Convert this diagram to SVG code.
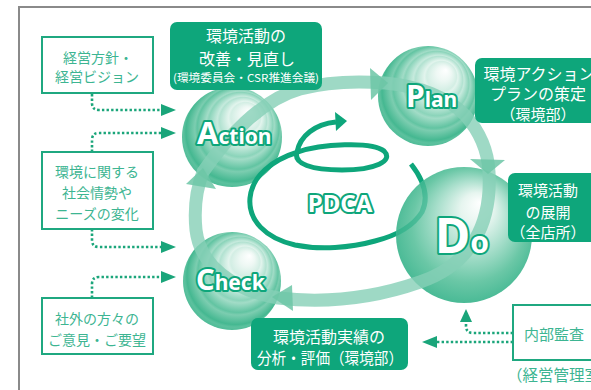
<svg xmlns="http://www.w3.org/2000/svg" width="591" height="390" viewBox="0 0 591 390">
  <defs>
    <style>
      .frame { fill: none; stroke: #8a8a8a; stroke-width: 2; }
      .note { fill: #ffffff; stroke: #1fa880; stroke-width: 2; }
      .note-text { fill: #3db592; font-family: "Noto Sans CJK JP", "Noto Sans", sans-serif; font-size: 14px; text-anchor: middle; }
      .role { fill: #0ea67b; }
      .role-text { fill: #ffffff; font-family: "Noto Sans CJK JP", "Noto Sans", sans-serif; font-size: 16px; text-anchor: middle; }
      .dots { fill: none; stroke: #1aa57a; stroke-width: 2.6; stroke-dasharray: 2.4 2.2; }
      .dot-head { fill: #1aa57a; }
      .cycle { fill: none; stroke: #86d0b7; stroke-width: 13; opacity: 0.8; }
      .cycle-head { fill: #6cc6a6; opacity: 0.85; }
      .spiral { fill: none; stroke: #0ea67b; stroke-width: 5; stroke-linecap: butt; }
      .stage { fill: #ffffff; stroke: #0ea67b; stroke-width: 4; paint-order: stroke; stroke-linejoin: round; font-family: "Noto Sans", "DejaVu Sans", sans-serif; font-weight: 700; }
    </style>
    <radialGradient id="ball" cx="0.5" cy="0.5" r="0.62" fx="0.68" fy="0.24">
      <stop offset="0" stop-color="#ffffff"/>
      <stop offset="0.12" stop-color="#eef8f4"/>
      <stop offset="0.24" stop-color="#d3eee4"/>
      <stop offset="0.27" stop-color="#e2f4ed"/>
      <stop offset="0.38" stop-color="#b2e2d1"/>
      <stop offset="0.41" stop-color="#c6eadd"/>
      <stop offset="0.52" stop-color="#8bd4ba"/>
      <stop offset="0.55" stop-color="#a2dcc7"/>
      <stop offset="0.66" stop-color="#62c4a2"/>
      <stop offset="0.69" stop-color="#7ccdb0"/>
      <stop offset="0.80" stop-color="#45b891"/>
      <stop offset="0.83" stop-color="#5cc19e"/>
      <stop offset="1" stop-color="#2aad85"/>
    </radialGradient>
    <radialGradient id="ball-do" cx="0.5" cy="0.5" r="0.6" fx="0.62" fy="0.26">
      <stop offset="0" stop-color="#ffffff"/>
      <stop offset="0.2" stop-color="#e6f5ef"/>
      <stop offset="0.45" stop-color="#a9dfcc"/>
      <stop offset="0.7" stop-color="#6ac7a6"/>
      <stop offset="1" stop-color="#35b28b"/>
    </radialGradient>
    <mask id="behind-do">
      <rect x="0" y="0" width="591" height="390" fill="#ffffff"/>
      <circle cx="464" cy="235" r="68" fill="#6a6a6a"/>
    </mask>
  </defs>

  <!-- outer frame -->
  <path class="frame" d="M591,7 H19 V390"/>

  <!-- connectors: dotted inputs and the PDCA cycle band -->
  <g id="connectors">
    <path class="dots" d="M92,94 V103 Q92,110 99,110 H163"/>
    <polygon class="dot-head" points="161,104 176,110 161,116"/>
    <path class="dots" d="M92,152 V140 Q92,133 99,133 H163"/>
    <polygon class="dot-head" points="161,127 176,133 161,139"/>
    <path class="dots" d="M92,229 V240 Q92,247 99,247 H163"/>
    <polygon class="dot-head" points="161,241 176,247 161,253"/>
    <path class="dots" d="M92,298 V284 Q92,277 99,277 H163"/>
    <polygon class="dot-head" points="161,271 176,277 161,283"/>
    <path class="dots" d="M513,333 H473 Q466,333 466,326 V320"/>
    <polygon class="dot-head" points="460,322 466,309 472,322"/>
    <path class="dots" d="M513,342 H434"/>
    <polygon class="dot-head" points="437,336 422,342 437,348"/>
  </g>

  <!-- spheres -->
  <g id="action">
    <circle cx="232" cy="137" r="50" fill="url(#ball)"/>
  </g>
  <g id="plan">
    <circle cx="428" cy="96" r="50" fill="url(#ball)"/>
  </g>
  <g id="check">
    <circle cx="232" cy="281" r="49" fill="url(#ball)"/>
  </g>
  <g id="do">
    <circle cx="464" cy="235" r="68" fill="url(#ball-do)"/>
  </g>

  <!-- PDCA spiral -->
  <g id="pdca">
    <path class="spiral" mask="url(#behind-do)" d="M411,164 C422,178 430,195 422,212 C412,228 395,236 375,241 C350,248 320,250 295,245 C265,238 248,220 250,198 C252,176 272,160 298,152 C320,144 372,141 384,151 C394,161 375,170 342,170 C312,170 293,164 297,152 C300,136 315,124 336,122"/>
    <polygon fill="#0ea67b" points="347,121 335,112 336,131"/>
    <text class="stage" x="340" y="212" font-size="24" text-anchor="middle">PDCA</text>
  </g>

  <!-- cycle band -->
  <g id="cycle">
    <path class="cycle" d="M203,172 C225,140 260,100 300,89 C330,81 360,81 385,83 C420,86 448,98 465,115 C480,132 488,150 489,172 C492,225 470,265 420,282 C380,296 330,304 278,298 C232,290 200,265 196,230 C194,210 196,190 203,172 Z"/>
    <polygon class="cycle-head" points="388,83 370,68 371,100"/>
    <polygon class="cycle-head" points="488,174 470,159 505,160"/>
    <polygon class="cycle-head" points="272,297 292,285 293,311"/>
    <polygon class="cycle-head" points="203,168 186,184 216,189"/>
  </g>

  <!-- stage letters -->
  <text class="stage" x="197" y="144"><tspan font-size="31">A</tspan><tspan font-size="21">ction</tspan></text>
  <text class="stage" x="406" y="107"><tspan font-size="30">P</tspan><tspan font-size="21">lan</tspan></text>
  <text class="stage" x="196" y="290"><tspan font-size="29">C</tspan><tspan font-size="21">heck</tspan></text>
  <text class="stage" x="435" y="253"><tspan font-size="48">D</tspan><tspan font-size="30">o</tspan></text>

  <!-- input notes -->
  <g id="note-policy">
    <rect class="note" x="42" y="37" width="111" height="56"/>
    <text class="note-text" x="98" y="63">経営方針・</text>
    <text class="note-text" x="97" y="82">経営ビジョン</text>
  </g>
  <g id="note-society">
    <rect class="note" x="42" y="152" width="111" height="77"/>
    <text class="note-text" x="97" y="177">環境に関する</text>
    <text class="note-text" x="97" y="198">社会情勢や</text>
    <text class="note-text" x="97" y="219">ニーズの変化</text>
  </g>
  <g id="note-voices">
    <rect class="note" x="42" y="298" width="111" height="56"/>
    <text class="note-text" x="97" y="324">社外の方々の</text>
    <text class="note-text" x="97" y="345">ご意見・ご要望</text>
  </g>
  <g id="note-audit">
    <rect class="note" x="513" y="305" width="90" height="55"/>
    <text class="note-text" x="554" y="340" style="font-size:15px">内部監査</text>
    <text class="note-text" x="507" y="381" style="font-size:15.5px; text-anchor:start">（経営管理室）</text>
  </g>

  <!-- responsibility boxes -->
  <g id="role-action">
    <rect class="role" x="170" y="22" width="152" height="68" rx="7"/>
    <text class="role-text" x="246" y="42">環境活動の</text>
    <text class="role-text" x="247" y="65">改善・見直し</text>
    <text class="role-text" x="246" y="82" style="font-size:11px" textLength="146" lengthAdjust="spacingAndGlyphs">(環境委員会・CSR推進会議)</text>
  </g>
  <g id="role-plan">
    <rect class="role" x="475" y="58" width="130" height="65" rx="7"/>
    <text class="role-text" x="539" y="80">環境アクション</text>
    <text class="role-text" x="538" y="100">プランの策定</text>
    <text class="role-text" x="538" y="120" style="font-size:15px">（環境部）</text>
  </g>
  <g id="role-do">
    <rect class="role" x="508" y="173" width="95" height="69" rx="7"/>
    <text class="role-text" x="548" y="196" style="font-size:15px">環境活動</text>
    <text class="role-text" x="548" y="218" style="font-size:15px">の展開</text>
    <text class="role-text" x="548" y="238" style="font-size:15px">（全店所）</text>
  </g>
  <g id="role-check">
    <rect class="role" x="251" y="318" width="157" height="52" rx="7"/>
    <text class="role-text" x="329" y="343">環境活動実績の</text>
    <text class="role-text" x="330" y="364" textLength="146" lengthAdjust="spacingAndGlyphs">分析・評価（環境部）</text>
  </g>
</svg>
